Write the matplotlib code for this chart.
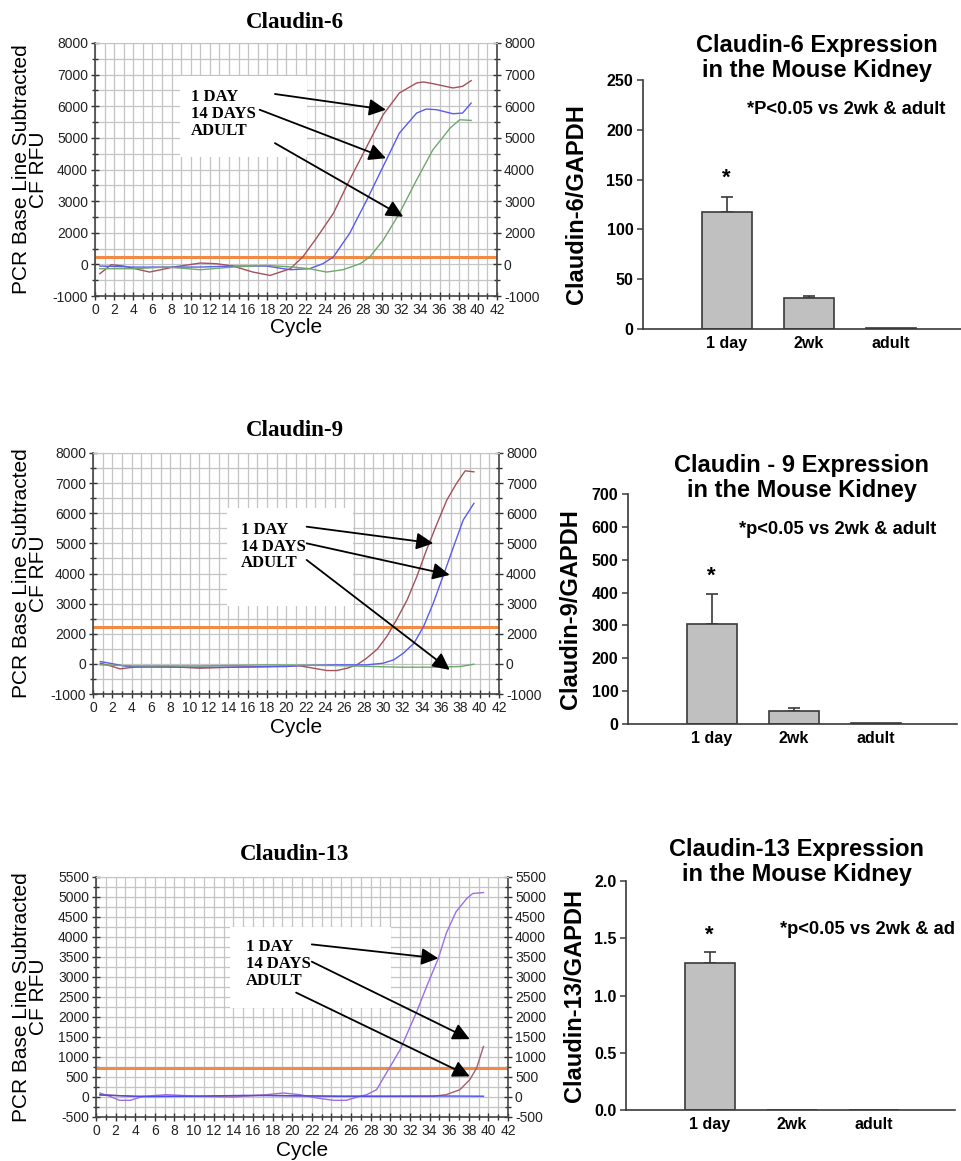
import numpy as np
import matplotlib
matplotlib.use('Agg')
import matplotlib.pyplot as plt
from matplotlib.patches import Rectangle

plt.rcParams['font.family'] = 'Liberation Sans'

W, H = 962, 1161

# ---------------- qPCR amplification curves (cycle vs CF RFU) ----------------
cycle_ticks = list(range(0, 43, 2))

# Claudin-6
c6_1day_x = [0.5, 1.7, 3, 5.7, 8.2, 11, 12.7, 14.4, 16.5, 18.3, 20.4, 21.7, 23.1, 24.9,
             26.6, 28.4, 30.1, 31.8, 33.6, 34.3, 35.3, 37.4, 38.4, 39.3]
c6_1day_y = [-296, -10, -53, -243, -85, 85, 42, -53, -243, -349, -137, 465, 1628, 2613,
             3670, 4727, 5731, 6419, 6736, 6768, 6715, 6578, 6630, 6810]
c6_14d_x = [0.5, 4, 7.5, 11, 14.4, 17.9, 20.4, 22.4, 23.8, 24.9, 26.6, 28.4, 30.1, 31.8,
            33.6, 34.6, 35.7, 37.4, 38.4, 39.3]
c6_14d_y = [-53, -85, -85, -85, -53, -53, -169, -137, 42, 465, 1958, 3036, 4093, 5150,
            5784, 5911, 5890, 5763, 5784, 6101]
c6_adult_x = [0.5, 4, 7.5, 11, 14.4, 17.9, 20.7, 22.4, 24.2, 25.9, 27.7, 28.7, 30.1, 31.8,
              33.6, 35.3, 37.1, 38.1, 39.3]
c6_adult_y = [-137, -137, -85, -169, -85, -32, -85, -137, -243, -169, 42, 465, 1523, 2613,
              3670, 4622, 5309, 5573, 5552]
c6_threshold = 440

# Claudin-9
c9_1day_x = [0.76, 1.8, 2.8, 4.2, 7.6, 11.1, 14.5, 18, 21.4, 22.8, 24.2, 25.2, 26.3, 27.3,
             28.3, 29.4, 30.4, 31.4, 32.5, 33.5, 34.5, 35.6, 36.6, 37.6, 38.5, 39.4]
c9_1day_y = [44, -66, -166, -110, -88, -143, -110, -88, -66, -143, -221, -221, -143, -33,
             375, 971, 1823, 2464, 3126, 3899, 4782, 5664, 6437, 6989, 7408, 7375]
c9_14d_x = [0.76, 2.1, 3.5, 7.6, 14.5, 20, 21.4, 24.9, 28.3, 30, 31.1, 32.1, 33.2, 34.2,
            35.2, 36.2, 37.3, 38.3, 39.4]
c9_14d_y = [155, 0, -88, -110, -110, -88, -55, -33, -33, 44, 265, 706, 1369, 2243,
            3016, 3899, 4892, 5775, 6327]
c9_adult_x = [0.76, 4.2, 11.1, 18, 24.9, 31.8, 35.2, 38, 39.4]
c9_adult_y = [-33, -66, -66, -33, -55, -110, -110, -88, -11]
c9_threshold = 2240

# Claudin-13
c13_1day_x = [0.4, 1.4, 2.4, 3.5, 4.8, 7.2, 10.6, 14, 17.4, 19.1, 20.8, 22.5, 24.2, 25.5,
              26.9, 27.6, 28.6, 29.9, 31.0, 32.7, 33.7, 34.9, 35.7, 36.7, 37.8, 38.4, 39.5]
c13_1day_y = [100, 17, -83, -83, 17, 58, 17, 0, 58, 100, 58, -25, -83, -83,
              17, 58, 183, 723, 1180, 2136, 2760, 3466, 4090, 4630, 4963, 5087, 5112]
c13_14d_x = [0.4, 3.8, 10.6, 17.4, 24.2, 31, 34.4, 35.7, 37.1, 38.1, 38.8, 39.5]
c13_14d_y = [58, 17, 17, 42, 17, 17, 17, 58, 183, 432, 723, 1264]
c13_adult_x = [0.4, 5, 10, 15, 20, 25, 30, 35, 39.5]
c13_adult_y = [50, 10, 20, 40, 30, 20, 20, 25, 20]
c13_threshold = 720

# labels for the RFU axes (1000 is not labelled in the first two charts)
rfu_ticks_8000 = [-1000, 0, 2000, 3000, 4000, 5000, 6000, 7000, 8000]
rfu_ticks_5500 = list(range(-500, 5501, 500))

legend_lines = "1 DAY\n14 DAYS\nADULT"

# ---------------- relative expression bars ----------------
groups = ['1 day', '2wk', 'adult']
c6_mean = [117, 31, 1]
c6_sem = [16, 2, 0]
c9_mean = [305, 40, 2]
c9_sem = [91, 9, 0]
c13_mean = [1.28, 0, 0]
c13_sem = [0.10, 0, 0]
significant = [True, False, False]


def px_axes(l, t, r, b):
    return fig.add_axes([l / W, 1 - b / H, (r - l) / W, (b - t) / H])


def fwd(v):
    v = np.asarray(v, float)
    return np.where(v <= 0, v, np.where(v <= 2000, v / 2, v - 1000))


def inv(p):
    p = np.asarray(p, float)
    return np.where(p <= 0, p, np.where(p <= 1000, p * 2, p + 1000))


def pcr_panel(rect, title, title_xy, cycle_y, curves, colors, thr, yticks, box, text_xy,
              arrows, squeezed):
    ax = px_axes(*rect)
    if squeezed:
        ax.set_yscale('function', functions=(fwd, inv))
    for (cx, cy), col in zip(curves, colors):
        ax.plot(cx, cy, color=col, lw=1.0, zorder=3)
    ax.axhline(thr, color='#f28a45', lw=2.2, zorder=2.5)

    ax.set_xlim(0, 42)
    ax.set_ylim(yticks[0], yticks[-1])
    ax.set_xticks(cycle_ticks)
    ax.set_xticks(range(0, 43), minor=True)
    ax.set_yticks(yticks)
    ax.set_yticklabels([str(t) for t in yticks])
    mids = [(a + b) / 2 for a, b in zip(yticks[:-1], yticks[1:])]
    ax.set_yticks(mids, minor=True)
    ax.grid(True, which='both', color='#c4c4c4', lw=0.9, zorder=1)
    ax.tick_params(which='both', direction='inout', color='#333333', right=True,
                   labelright=True, labelsize=10, labelcolor='#222222', width=1.0)
    ax.tick_params(which='major', length=6, pad=2)
    ax.tick_params(which='minor', length=5)
    for s in ['left', 'right', 'bottom']:
        ax.spines[s].set_color('#444444')
        ax.spines[s].set_linewidth(1.2)
    ax.spines['top'].set_color('#c4c4c4')

    ax.add_patch(Rectangle((box[0], box[2]), box[1] - box[0], box[3] - box[2],
                           facecolor='white', edgecolor='none', zorder=1.8))
    ax.text(text_xy[0], text_xy[1], legend_lines, ha='left', va='center',
            family='Liberation Serif', weight='bold', fontsize=12, linespacing=1.05, zorder=4)
    for (x0, y0, x1, y1) in arrows:
        ax.annotate('', xy=(x1, y1), xytext=(x0, y0), zorder=4,
                    arrowprops=dict(arrowstyle='-|>,head_length=0.6,head_width=0.3',
                                    color='black', lw=1.3, mutation_scale=17,
                                    shrinkA=0, shrinkB=0))

    ymid = (rect[1] + rect[3]) / 2
    fig.text(30 / W, 1 - ymid / H, 'PCR Base Line Subtracted\nCF RFU', rotation=90,
             ha='center', va='center', fontsize=15, linespacing=0.9)
    fig.text((rect[0] + rect[2]) / 2 / W, 1 - cycle_y / H, 'Cycle', ha='center',
             va='baseline', fontsize=15)
    fig.text(title_xy[0] / W, 1 - title_xy[1] / H, title, ha='center', va='center',
             family='Liberation Serif', weight='bold', fontsize=16.5)
    return ax


def bar_panel(rect, mean, sem, ylim, yticks, fmt, ylabel, ylabel_x, title, title_xy, note, note_xy):
    ax = px_axes(*rect)
    x = np.arange(len(groups))
    ax.bar(x, mean, width=0.61, color='#c0c0c0', edgecolor='#3a3a3a', lw=1.2, zorder=2)
    idx = [i for i, e in enumerate(sem) if e > 0]
    ax.errorbar([x[i] for i in idx], [mean[i] for i in idx],
                yerr=[[0] * len(idx), [sem[i] for i in idx]], fmt='none',
                ecolor='#3a3a3a', elinewidth=1.2, capsize=4, capthick=1.2, zorder=1)
    for i, sig in enumerate(significant):
        if sig:
            ax.text(x[i], mean[i] + sem[i] + 0.075 * ylim[1], '*', ha='center', va='center',
                    fontsize=16, weight='bold')
    ax.set_ylim(*ylim)
    ax.set_xlim(-1.02, -1.02 + (rect[2] - rect[0]) / 82)
    ax.set_xticks(x)
    ax.set_xticklabels(groups, weight='bold', fontsize=11.5)
    ax.set_yticks(yticks)
    ax.set_yticklabels([fmt.format(t) for t in yticks], weight='bold', fontsize=11.5)
    ax.tick_params(axis='x', length=0, pad=5)
    ax.tick_params(axis='y', length=4, width=1.1, color='#3a3a3a', pad=3)
    for s in ['top', 'right']:
        ax.spines[s].set_visible(False)
    for s in ['left', 'bottom']:
        ax.spines[s].set_color('#3a3a3a')
        ax.spines[s].set_linewidth(1.2)
    fig.text(ylabel_x / W, 1 - ((rect[1] + rect[3]) / 2) / H, ylabel, rotation=90,
             ha='center', va='center', weight='bold', fontsize=17)
    fig.text(title_xy[0] / W, 1 - title_xy[1] / H, title, ha='center', va='center',
             weight='bold', fontsize=17, linespacing=1.1)
    fig.text(note_xy[0] / W, 1 - note_xy[1] / H, note, ha='left', va='center',
             weight='bold', fontsize=13.2)
    return ax


fig = plt.figure(figsize=(W / 100, H / 100), dpi=100)

pcr_panel((95, 43, 497, 296), 'Claudin-6', (295, 22), 333,
          [(c6_1day_x, c6_1day_y), (c6_14d_x, c6_14d_y), (c6_adult_x, c6_adult_y)],
          ['#a3525a', '#5b5bef', '#6fa86c'], c6_threshold, rfu_ticks_8000,
          (8.9, 22.1, 4410, 6947), (10, 5753),
          [(18.8, 6387, 30.4, 5890), (17.2, 5890, 30.4, 4357), (18.8, 4833, 32.2, 2507)],
          True)

pcr_panel((93, 453, 499, 694), 'Claudin-9', (295, 430), 733,
          [(c9_1day_x, c9_1day_y), (c9_14d_x, c9_14d_y), (c9_adult_x, c9_adult_y)],
          ['#a3525a', '#5b5bef', '#6fa86c'], c9_threshold, rfu_ticks_8000,
          (13.9, 26.9, 2905, 6161), (15.3, 4892),
          [(22.1, 5554, 35.2, 5002), (22.1, 5002, 36.9, 3954), (22.1, 4450, 36.9, -199)],
          True)

pcr_panel((96, 877, 508, 1117), 'Claudin-13', (295, 855), 1156,
          [(c13_1day_x, c13_1day_y), (c13_14d_x, c13_14d_y), (c13_adult_x, c13_adult_y)],
          ['#9b6fe6', '#a3606e', '#4a4af0'], c13_threshold, rfu_ticks_5500,
          (13.7, 30.1, 2219, 4256), (15.3, 3325),
          [(22.0, 3815, 34.9, 3466), (22.0, 3383, 38.1, 1446), (20.4, 2610, 38.1, 515)],
          False)

bar_panel((643, 80, 962, 329), c6_mean, c6_sem, (0, 250), list(range(0, 251, 50)), '{:d}',
          'Claudin-6/GAPDH', 577, 'Claudin-6 Expression\nin the Mouse Kidney', (817, 58),
          '*P<0.05 vs 2wk & adult', (747, 110))

bar_panel((628, 494, 957, 724), c9_mean, c9_sem, (0, 700), list(range(0, 701, 100)), '{:d}',
          'Claudin-9/GAPDH', 571, 'Claudin - 9 Expression\nin the Mouse Kidney', (802, 478),
          '*p<0.05 vs 2wk & adult', (739, 529))

bar_panel((626, 881, 955, 1110), c13_mean, c13_sem, (0, 2.0), [0.0, 0.5, 1.0, 1.5, 2.0], '{:.1f}',
          'Claudin-13/GAPDH', 575, 'Claudin-13 Expression\nin the Mouse Kidney', (797, 862),
          '*p<0.05 vs 2wk & ad', (780, 929))

fig.savefig('out.png', dpi=100)
